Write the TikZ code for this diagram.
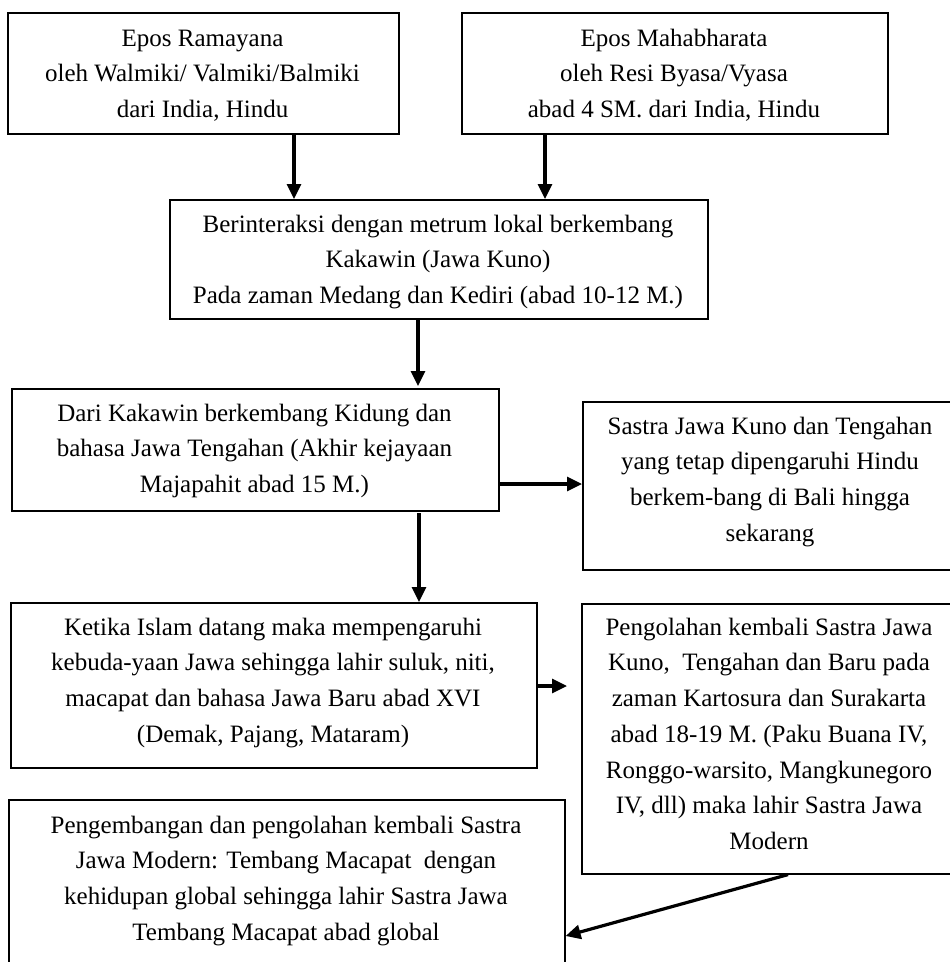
\documentclass[tikz,border=0pt]{standalone}
\usepackage{fontspec}
\setmainfont{Liberation Serif}
\usetikzlibrary{arrows.meta}
\newcommand{\fl}{\rule{0pt}{25pt}}
\tikzset{
  box/.style={draw, line width=1.6pt, anchor=north west, inner sep=0pt},
  txt/.style={anchor=north, align=center, inner sep=0pt,
    font=\fontsize{25}{35.7}\selectfont},
  arr/.style={line width=3.2pt, -{Triangle[length=15pt,width=14pt]}}
}
\begin{document}
\begin{tikzpicture}[x=1pt,y=-1pt]
\useasboundingbox (0,0) rectangle (950,962);
\clip (0,0) rectangle (950,962);
% boxes
\node[box, minimum width=391pt, minimum height=121pt] (b1) at (7,12) {};
\node[box, minimum width=426pt, minimum height=121pt] (b2) at (461,12) {};
\node[box, minimum width=538pt, minimum height=119pt] (b3) at (169,199) {};
\node[box, minimum width=487pt, minimum height=122pt] (b4) at (11,388) {};
\node[box, minimum width=378pt, minimum height=168pt] (b5) at (582,401) {};
\node[box, minimum width=526pt, minimum height=165pt] (b6) at (10,602) {};
\node[box, minimum width=378pt, minimum height=270pt] (b7) at (581,603) {};
\node[box, minimum width=556pt, minimum height=220pt] (b8) at (8,799) {};
% texts (north = first baseline - 25)
\node[txt] (t1) at (202.5,21) {\fl Epos Ramayana\\oleh Walmiki/ Valmiki/Balmiki\\dari India, Hindu};
\node[txt] (t2) at (674,21) {\fl Epos Mahabharata\\oleh Resi Byasa/Vyasa\\abad 4 SM. dari India, Hindu};
\node[txt] (t3) at (438,207) {\fl Berinteraksi dengan metrum lokal berkembang\\Kakawin (Jawa Kuno)\\Pada zaman Medang dan Kediri (abad 10-12 M.)};
\node[txt] (t4) at (254.5,396) {\fl Dari Kakawin berkembang Kidung dan\\bahasa Jawa Tengahan (Akhir kejayaan\\Majapahit abad 15 M.)};
\node[txt] (t5) at (770,409) {\fl Sastra Jawa Kuno dan Tengahan\\yang tetap dipengaruhi Hindu\\berkem-bang di Bali hingga\\sekarang};
\node[txt] (t6) at (273,610) {\fl Ketika Islam datang maka mempengaruhi\\kebuda-yaan Jawa sehingga lahir suluk, niti,\\macapat dan bahasa Jawa Baru abad XVI\\(Demak, Pajang, Mataram)};
\node[txt] (t7) at (769,610) {\fl Pengolahan kembali Sastra Jawa\\Kuno,\ \ Tengahan dan Baru pada\\zaman Kartosura dan Surakarta\\abad 18-19 M. (Paku Buana IV,\\Ronggo-warsito, Mangkunegoro\\IV, dll) maka lahir Sastra Jawa\\Modern};
\node[txt] (t8) at (286,808) {\fl Pengembangan dan pengolahan kembali Sastra\\Jawa Modern: Tembang Macapat\ \ dengan\\kehidupan global sehingga lahir Sastra Jawa\\Tembang Macapat abad global};
% connector anchor points
\coordinate (a1s) at (b1.south -| 294,0);
\coordinate (a1e) at (b3.north -| 294,0);
\coordinate (a2s) at (b2.south -| 545,0);
\coordinate (a2e) at (b3.north -| 545,0);
\coordinate (a3s) at (b3.south -| 418,0);
\coordinate (a3e) at (418,386);
\coordinate (a4s) at (b4.east |- 0,484);
\coordinate (a4e) at (b5.west |- 0,484);
\coordinate (a5s) at (419,513);
\coordinate (a5e) at (b6.north -| 419,0);
\coordinate (a6s) at (b6.east |- 0,686);
\coordinate (a6e) at (567,686);
\coordinate (a7s) at (b7.south -| 788,0);
\coordinate (a7e) at (b8.east |- 0,936);
% connectors
\draw[arr] (a1s) -- (a1e);
\draw[arr] (a2s) -- (a2e);
\draw[arr] (a3s) -- (a3e);
\draw[arr] (a4s) -- (a4e);
\draw[arr] (a5s) -- (a5e);
\draw[arr] (a6s) -- (a6e);
\draw[arr] (a7s) -- (a7e);
\end{tikzpicture}
\end{document}
